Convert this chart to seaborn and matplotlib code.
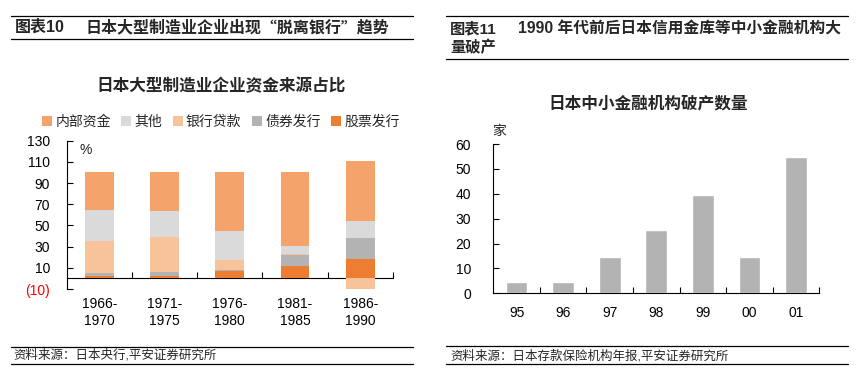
import numpy as np
import pandas as pd
import matplotlib
matplotlib.use('Agg')
import matplotlib.pyplot as plt
import seaborn as sns

# left chart: funding sources of large Japanese manufacturers (%)
periods = ['1966-\n1970', '1971-\n1975', '1976-\n1980', '1981-\n1985', '1986-\n1990']
internal = [35.5, 36.5, 56.0, 69.5, 56.5]
other = [29.5, 24.5, 27.5, 8.0, 16.0]
bank_loan = [30.5, 33.0, 9.0, 0.5, -10.0]
bond = [3.0, 4.0, 1.0, 10.5, 20.0]
stock = [2.0, 2.0, 7.0, 12.0, 18.5]
yticks_left = [-10, 10, 30, 50, 70, 90, 110, 130]
ylabels_left = ['(10)', '10', '30', '50', '70', '90', '110', '130']

# right chart: failures of small financial institutions
years = ['95', '96', '97', '98', '99', '00', '01']
failures = [4.4, 4.4, 14.6, 25.4, 39.5, 14.6, 54.7]

sns.set_theme(style='white')
plt.rcParams['font.family'] = ['Liberation Sans', 'Noto Sans CJK SC']
plt.rcParams['axes.unicode_minus'] = False
plt.rcParams['axes.edgecolor'] = 'black'
plt.rcParams['xtick.color'] = 'black'
plt.rcParams['ytick.color'] = 'black'

W, H = 860, 378
fig = plt.figure(figsize=(8.6, 3.78), dpi=100)


def px(x, y):
    return x / W, 1 - y / H


def hline(x0, x1, y):
    fig.add_artist(plt.Line2D([x0 / W, x1 / W], [1 - y / H] * 2, color='black', lw=0.9))


# headers / footers
for y in (16, 39.3, 346.7, 364):
    hline(11, 413, y)
for y in (16, 59.3, 346, 364.3):
    hline(446, 848, y)

fig.text(*px(15, 27.3), '图表10', weight='bold', size=11.5, va='center')
fig.text(*px(85, 27.3), '日本大型制造业企业出现“脱离银行”趋势', weight='bold', size=11.5,
         va='center', family=['Noto Sans CJK SC'])
fig.text(*px(450, 29.5), '图表11', weight='bold', size=11, va='center')
fig.text(*px(518, 29.5), '1990 年代前后日本信用金库等中小金融机构大', weight='bold', size=11.3, va='center')
fig.text(*px(450, 47.5), '量破产', weight='bold', size=11, va='center')

fig.text(*px(13, 355.5), '资料来源：日本央行,平安证券研究所', size=9, va='center')
fig.text(*px(450, 356), '资料来源：日本存款保险机构年报,平安证券研究所', size=9, va='center')

fig.text(*px(221, 86), '日本大型制造业企业资金来源占比', weight='bold', size=12, ha='center', va='center')
fig.text(*px(648, 104), '日本中小金融机构破产数量', weight='bold', size=12, ha='center', va='center')

# ---- left chart ----
ax1 = fig.add_axes([66.7 / W, 1 - 289 / H, (393 - 66.7) / W, (289 - 140.7) / H])
series = [('股票发行', stock, '#ED7D31'), ('债券发行', bond, '#B3B3B3'),
          ('银行贷款', bank_loan, '#F8C39B'), ('其他', other, '#DADADA'),
          ('内部资金', internal, '#F4A36A')]
x = np.arange(len(periods))
pos_base = np.zeros(len(periods))
neg_base = np.zeros(len(periods))
for name, vals, color in series:
    v = np.array(vals)
    base = np.where(v >= 0, pos_base, neg_base)
    ax1.bar(x, v, bottom=base, width=0.44, color=color, label=name, linewidth=0)
    pos_base += np.clip(v, 0, None)
    neg_base += np.clip(v, None, 0)

ax1.set_xlim(-0.5, 4.5)
ax1.set_ylim(-10, 130)
ax1.set_yticks(yticks_left, ylabels_left)
ax1.get_yticklabels()[0].set_color('red')
ax1.tick_params(axis='y', left=True, direction='in', length=4, width=0.8, pad=12, labelsize=10)
ax1.set_xticks(x, periods)
ax1.tick_params(axis='x', length=0, pad=6, labelsize=10)
for s in ('top', 'right', 'bottom'):
    ax1.spines[s].set_visible(False)
ax1.spines['left'].set_linewidth(0.8)

sec = ax1.secondary_xaxis(10 / 140)
sec.set_xticks(np.arange(0.5, 5, 1))
sec.tick_params(direction='in', length=4, width=0.8, labelbottom=False, labeltop=False)
sec.spines['bottom'].set_linewidth(0.8)

h, l = ax1.get_legend_handles_labels()
ax1.legend(h[::-1], l[::-1], loc='center', bbox_to_anchor=px(221, 121.7),
           bbox_transform=fig.transFigure, ncol=5, frameon=False, fontsize=10,
           handlelength=0.7, handleheight=0.7, handletextpad=0.25,
           columnspacing=0.75, borderaxespad=0, borderpad=0)
fig.text(*px(79, 150), '%', size=10, va='center')

# ---- right chart ----
ax2 = fig.add_axes([493.3 / W, 1 - 293.3 / H, (819.3 - 493.3) / W, (293.3 - 144) / H])
df = pd.DataFrame({'year': years, 'count': failures})
sns.barplot(data=df, x='year', y='count', color='#B3B3B3', saturation=1,
            width=0.465, ax=ax2)
ax2.set_xlim(-0.5, len(years) - 0.5)
ax2.set_ylim(0, 60)
ax2.set_yticks(np.arange(0, 61, 10))
ax2.set_xlabel('')
ax2.set_ylabel('')
ax2.tick_params(axis='y', left=True, direction='in', length=4, width=0.8, pad=16, labelsize=10)
ax2.tick_params(axis='x', which='major', length=0, pad=9, labelsize=10)
ax2.set_xticks(np.arange(0.5, len(years), 1), minor=True)
ax2.tick_params(axis='x', which='minor', bottom=True, direction='in', length=4, width=0.8)
for s in ('top', 'right'):
    ax2.spines[s].set_visible(False)
for s in ('left', 'bottom'):
    ax2.spines[s].set_linewidth(0.8)
fig.text(*px(499.5, 131), '家', size=10, ha='center', va='center')

fig.savefig('out.png', dpi=100)
